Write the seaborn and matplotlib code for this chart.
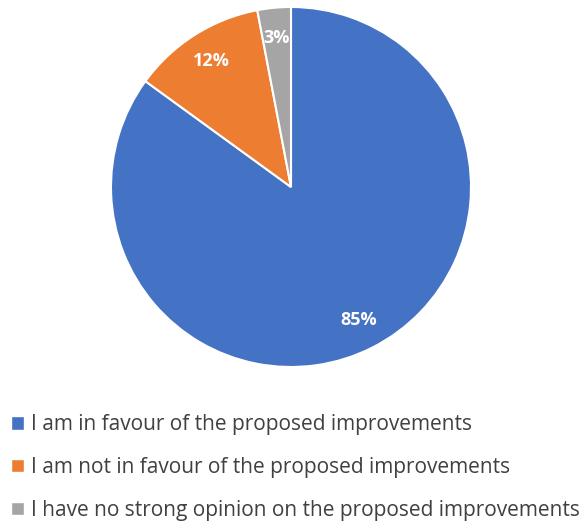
import matplotlib.pyplot as plt
import matplotlib.patches as mpatches
import seaborn as sns

labels = [
    "I am in favour of the proposed improvements",
    "I am not in favour of the proposed improvements",
    "I have no strong opinion on the proposed improvements",
]
shares = [85, 12, 3]
colors = ["#4472C4", "#ED7D31", "#A5A5A5"]

sns.set_style("white")
plt.rcParams["font.family"] = ["Open Sans", "DejaVu Sans"]

fig = plt.figure(figsize=(5.84, 5.22), dpi=100)
ax = fig.add_axes([111 / 584, 155 / 522, 360 / 584, 360 / 522])

wedges, texts, autotexts = ax.pie(
    shares,
    colors=colors,
    startangle=90,
    counterclock=False,
    autopct="%d%%",
    pctdistance=0.83,
    wedgeprops={"edgecolor": "white", "linewidth": 1.5},
    textprops={"color": "white", "fontweight": "bold", "fontsize": 13},
)
ax.set_xlim(-1, 1)
ax.set_ylim(-1, 1)
ax.set_aspect("equal")

handles = [mpatches.Patch(facecolor=c, label=l) for c, l in zip(colors, labels)]
fig.legend(
    handles=handles,
    loc="upper left",
    bbox_to_anchor=(0.005, 1 - 406 / 522),
    frameon=False,
    fontsize=15,
    handlelength=0.6,
    handleheight=0.6,
    handletextpad=0.35,
    labelspacing=1.05,
    borderaxespad=0,
    labelcolor="#404040",
)

fig.savefig("out.png", dpi=100)
